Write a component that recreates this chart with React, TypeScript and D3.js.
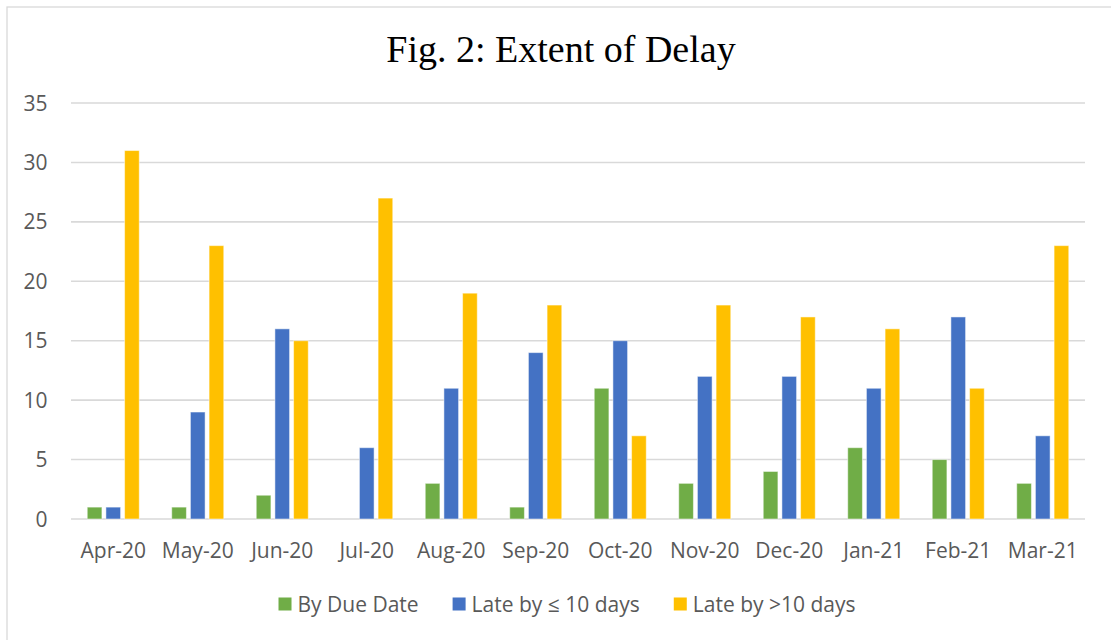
import React, { useEffect, useRef } from 'react';
import * as d3 from 'd3';

const months = ['Apr-20', 'May-20', 'Jun-20', 'Jul-20', 'Aug-20', 'Sep-20', 'Oct-20', 'Nov-20', 'Dec-20', 'Jan-21', 'Feb-21', 'Mar-21'];
const seriesNames = ['By Due Date', 'Late by \u2264 10 days', 'Late by >10 days'];
const byDueDate = [1, 1, 2, 0, 3, 1, 11, 3, 4, 6, 5, 3];
const lateUpTo10 = [1, 9, 16, 6, 11, 14, 15, 12, 12, 11, 17, 7];
const lateOver10 = [31, 23, 15, 27, 19, 18, 7, 18, 17, 16, 11, 23];
const yTicks = [0, 5, 10, 15, 20, 25, 30, 35];
const colors = ['#70AD47', '#4472C4', '#FFC000'];

export default function App() {
    const ref = useRef<SVGSVGElement>(null);

    useEffect(() => {
        if (!ref.current) return;
        const width = 1111;
        const height = 640;
        const margin = { top: 103, right: 26, bottom: 121, left: 71 };
        const font = '"Open Sans", sans-serif';

        const svg = d3.select(ref.current);
        svg.selectAll('*').remove();
        svg.attr('width', width).attr('height', height);

        svg.append('rect')
            .attr('x', 0).attr('y', 0).attr('width', width).attr('height', height)
            .attr('fill', '#fff');

        // chart frame
        svg.append('rect')
            .attr('x', 7).attr('y', 7).attr('width', width + 10).attr('height', height + 10)
            .attr('fill', 'none').attr('stroke', '#D9D9D9').attr('stroke-width', 1.3);

        const series = [byDueDate, lateUpTo10, lateOver10];
        const data = months.map((m, i) => ({ month: m, values: series.map(s => s[i]) }));

        const x0 = d3.scaleBand()
            .domain(months)
            .range([margin.left, width - margin.right])
            .paddingInner(0.337)
            .paddingOuter(0.1685);

        const x1 = d3.scaleBand()
            .domain(seriesNames)
            .range([0, x0.bandwidth()]);

        const y = d3.scaleLinear()
            .domain([0, 35])
            .range([height - margin.bottom, margin.top]);

        // gridlines
        svg.append('g')
            .selectAll('line')
            .data(yTicks)
            .enter()
            .append('line')
            .attr('x1', margin.left)
            .attr('x2', width - margin.right)
            .attr('y1', d => y(d))
            .attr('y2', d => y(d))
            .attr('stroke', '#D9D9D9')
            .attr('stroke-width', 1.6);

        // y labels
        svg.append('g')
            .selectAll('text')
            .data(yTicks)
            .enter()
            .append('text')
            .attr('x', 47.5)
            .attr('y', d => y(d))
            .attr('dy', '0.36em')
            .attr('text-anchor', 'end')
            .attr('font-family', font)
            .attr('font-size', 21)
            .attr('fill', '#595959')
            .text(d => d);

        // bars
        const inset = 2;
        svg.append('g')
            .selectAll('g')
            .data(data)
            .enter()
            .append('g')
            .attr('transform', d => `translate(${x0(d.month)},0)`)
            .selectAll('rect')
            .data(d => d.values.map((v, i) => ({ name: seriesNames[i], value: v, i })))
            .enter()
            .filter(d => d.value > 0)
            .append('rect')
            .attr('x', d => x1(d.name)! + inset)
            .attr('width', x1.bandwidth() - inset * 2)
            .attr('y', d => y(d.value))
            .attr('height', d => y(0) - y(d.value))
            .attr('fill', d => colors[d.i])
            .attr('stroke', '#fff')
            .attr('stroke-opacity', 0.5)
            .attr('stroke-width', 1);

        // x labels
        svg.append('g')
            .selectAll('text')
            .data(months)
            .enter()
            .append('text')
            .attr('x', d => x0(d)! + x0.bandwidth() / 2)
            .attr('y', 558)
            .attr('text-anchor', 'middle')
            .attr('font-family', font)
            .attr('font-size', 21)
            .attr('fill', '#595959')
            .text(d => d);

        // title
        svg.append('text')
            .attr('x', 561)
            .attr('y', 62)
            .attr('text-anchor', 'middle')
            .attr('font-family', '"Liberation Serif", "Times New Roman", serif')
            .attr('font-size', 38)
            .attr('fill', '#000')
            .text('Fig. 2: Extent of Delay');

        // legend
        const legend = svg.append('g');
        const items = legend.selectAll('g')
            .data(seriesNames)
            .enter()
            .append('g');
        items.append('rect')
            .attr('width', 13).attr('height', 13)
            .attr('y', -13 / 2)
            .attr('fill', (d, i) => colors[i]);
        items.append('text')
            .attr('x', 19)
            .attr('dy', '0.36em')
            .attr('font-family', font)
            .attr('font-size', 21)
            .attr('fill', '#595959')
            .text(d => d);

        const gap = 34;
        const widths: number[] = [];
        items.each(function () {
            const t = d3.select(this).select('text').node() as SVGTextElement;
            widths.push(19 + t.getComputedTextLength());
        });
        const total = d3.sum(widths) + gap * (widths.length - 1);
        let cx = 567 - total / 2;
        items.attr('transform', (d, i) => {
            const tx = cx;
            cx += widths[i] + gap;
            return `translate(${tx},604)`;
        });
    }, []);

    return <svg ref={ref} style={{ position: 'absolute', left: 0, top: 0 }} />;
}
